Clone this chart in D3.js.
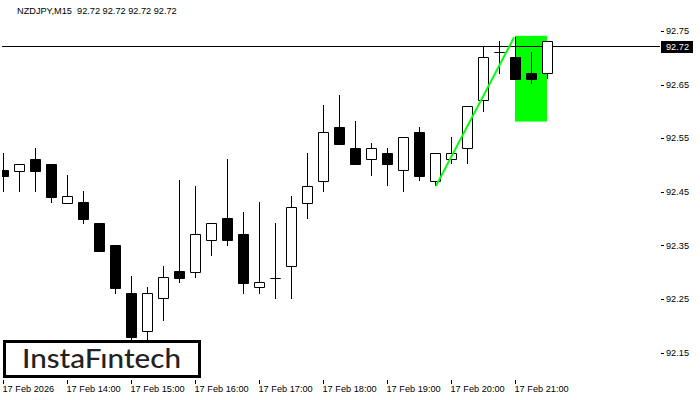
<!DOCTYPE html>
<html>
<head>
	<title> NZDJPY M15 candles </title>
	<meta charset="UTF-8">
	<script src="https://d3js.org/d3.v7.min.js"></script>
	<style>
	body { margin: 0; background: #fff; }
	svg text { font-family: "Liberation Sans", Arial, sans-serif; font-size: 9.2px; fill: #000; }
	</style>
</head>
<body>
<svg width="700" height="400"></svg>
<script type="text/javascript">
// NZDJPY M15 - candles with a green bullish flag marker

var title = "NZDJPY,M15  92.72 92.72 92.72 92.72";

// one value per 15 min candle, first candle is 17 Feb 13:00
var opens  = [92.491,92.489,92.511,92.502,92.430,92.431,92.392,92.351,92.261,92.191,92.251,92.302,92.301,92.361,92.401,92.371,92.272,92.290,92.311,92.430,92.471,92.571,92.532,92.511,92.522,92.490,92.562,92.471,92.511,92.531,92.621,92.710,92.701,92.671,92.671];
var highs  = [92.522,92.502,92.532,92.502,92.481,92.452,92.392,92.351,92.292,92.273,92.312,92.472,92.461,92.392,92.511,92.412,92.431,92.392,92.442,92.522,92.612,92.631,92.582,92.541,92.532,92.552,92.571,92.522,92.552,92.611,92.722,92.731,92.738,92.710,92.731];
var lows   = [92.450,92.450,92.450,92.430,92.430,92.390,92.340,92.259,92.150,92.150,92.209,92.280,92.290,92.330,92.349,92.260,92.260,92.250,92.250,92.400,92.450,92.540,92.501,92.480,92.460,92.450,92.471,92.461,92.501,92.501,92.599,92.670,92.661,92.651,92.661];
var closes = [92.480,92.502,92.489,92.441,92.442,92.400,92.340,92.271,92.180,92.261,92.291,92.290,92.371,92.392,92.361,92.280,92.281,92.290,92.421,92.460,92.561,92.540,92.501,92.531,92.501,92.552,92.480,92.522,92.522,92.611,92.701,92.710,92.661,92.661,92.731];

// x axis: hour marks (candle index) and their labels
var hourIdx = [0,4,8,12,16,20,24,28,32];
var hourLabels = ["17 Feb 2026","17 Feb 14:00","17 Feb 15:00","17 Feb 16:00","17 Feb 17:00","17 Feb 18:00","17 Feb 19:00","17 Feb 20:00","17 Feb 21:00"];

// y axis ticks
var priceTicks = [92.15,92.25,92.35,92.45,92.55,92.65,92.75];
var lastPrice = 92.72;

// pattern: line from low to high, box from candle 32 to 34
var lineIdx = [27, 32];
var linePrice = [92.461, 92.738];
var boxIdx = [32, 34];
var boxPrice = [92.741, 92.581];

var svg = d3.select("svg"),
	left = 2, right = 660, top = -1, bottom = 379;

var x = d3.scaleLinear().domain([0, 34]).range([3, 547]);
var y = d3.scaleLinear().domain([92.15, 92.75]).range([352.6, 31]);

var candles = opens.map(function(o, i){
	return {i: i, o: o, h: highs[i], l: lows[i], c: closes[i]};
});

// clip to the plot frame
svg.append("clipPath").attr("id", "plot")
	.append("rect").attr("x", left).attr("y", 0).attr("width", right - left).attr("height", bottom);

var g = svg.append("g").attr("clip-path", "url(#plot)");

// green box
g.append("rect")
	.attr("x", x(boxIdx[0]))
	.attr("y", y(boxPrice[0]))
	.attr("width", x(boxIdx[1]) - x(boxIdx[0]))
	.attr("height", y(boxPrice[1]) - y(boxPrice[0]))
	.attr("fill", "#00ff00");

// current price line
var py = Math.round(y(lastPrice)) - 0.5;
g.append("line")
	.attr("x1", left).attr("x2", right)
	.attr("y1", py).attr("y2", py)
	.attr("stroke", "#000").attr("stroke-width", 1);

// wicks
g.selectAll(".wick")
	.data(candles)
	.enter().append("line")
	.attr("class", "wick")
	.attr("x1", function(d){ return x(d.i) + 0.5; })
	.attr("x2", function(d){ return x(d.i) + 0.5; })
	.attr("y1", function(d){ return Math.round(y(d.h)); })
	.attr("y2", function(d){ return Math.round(y(d.l)); })
	.attr("stroke", "#000").attr("stroke-width", 1);

// bodies (path so that a doji still shows as a line)
g.selectAll(".body")
	.data(candles)
	.enter().append("path")
	.attr("class", "body")
	.attr("d", function(d){
		var x0 = x(d.i) - 4.5, x1 = x(d.i) + 5.5;
		var y0 = Math.round(y(Math.max(d.o, d.c))) + 0.5;
		var y1 = Math.round(y(Math.min(d.o, d.c))) + 0.5;
		return "M" + x0 + "," + y0 + "H" + x1 + "V" + y1 + "H" + x0 + "Z";
	})
	.attr("fill", function(d){ return d.c >= d.o ? "#fff" : "#000"; })
	.attr("stroke", "#000").attr("stroke-width", 1);

// green pattern line
g.append("line")
	.attr("x1", x(lineIdx[0]) + 1).attr("y1", y(linePrice[0]))
	.attr("x2", x(lineIdx[1]) - 1).attr("y2", y(linePrice[1]))
	.attr("stroke", "#00ff00").attr("stroke-width", 2);

// frame
svg.append("rect")
	.attr("x", left + 0.5).attr("y", top + 0.5)
	.attr("width", right - left).attr("height", bottom - top)
	.attr("fill", "none").attr("stroke", "#000").attr("stroke-width", 1);

// right price axis
var yAxis = svg.append("g");
yAxis.selectAll("line")
	.data(priceTicks)
	.enter().append("line")
	.attr("x1", right + 1).attr("x2", right + 4)
	.attr("y1", function(d){ return Math.round(y(d)) + 0.5; })
	.attr("y2", function(d){ return Math.round(y(d)) + 0.5; })
	.attr("stroke", "#000");
yAxis.selectAll("text")
	.data(priceTicks)
	.enter().append("text")
	.attr("x", 666)
	.attr("y", function(d){ return y(d); })
	.attr("dy", "0.35em")
	.text(function(d){ return d.toFixed(2); });

// last price tag
svg.append("rect")
	.attr("x", 661).attr("y", Math.round(y(lastPrice)) - 6)
	.attr("width", 32).attr("height", 12)
	.attr("fill", "#000");
svg.append("text")
	.attr("x", 666).attr("y", y(lastPrice))
	.attr("dy", "0.35em")
	.style("fill", "#fff")
	.text(lastPrice.toFixed(2));

// time axis
var xAxis = svg.append("g");
xAxis.selectAll("line")
	.data(hourIdx)
	.enter().append("line")
	.attr("x1", function(d){ return x(d) + 0.5; })
	.attr("x2", function(d){ return x(d) + 0.5; })
	.attr("y1", bottom + 1).attr("y2", bottom + 5)
	.attr("stroke", "#000");
xAxis.selectAll("text")
	.data(hourIdx)
	.enter().append("text")
	.attr("x", function(d){ return x(d) - 0.5; })
	.attr("y", 392)
	.text(function(d, i){ return hourLabels[i]; });

// title (keep the double space)
svg.append("text")
	.attr("x", 17).attr("y", 14)
	.style("white-space", "pre")
	.text(title);

// logo box
svg.append("rect")
	.attr("x", 4.5).attr("y", 341.5)
	.attr("width", 195).attr("height", 35)
	.attr("fill", "#fff").attr("stroke", "#000").attr("stroke-width", 3);
svg.append("text")
	.attr("x", 22).attr("y", 368)
	.attr("textLength", 159).attr("lengthAdjust", "spacingAndGlyphs")
	.style("font-family", "Lato, 'Open Sans', sans-serif")
	.style("font-size", "27px")
	.style("font-weight", "500")
	.style("fill", "#222")
	.text("InstaFıntech");

</script>
</body>
</html>
